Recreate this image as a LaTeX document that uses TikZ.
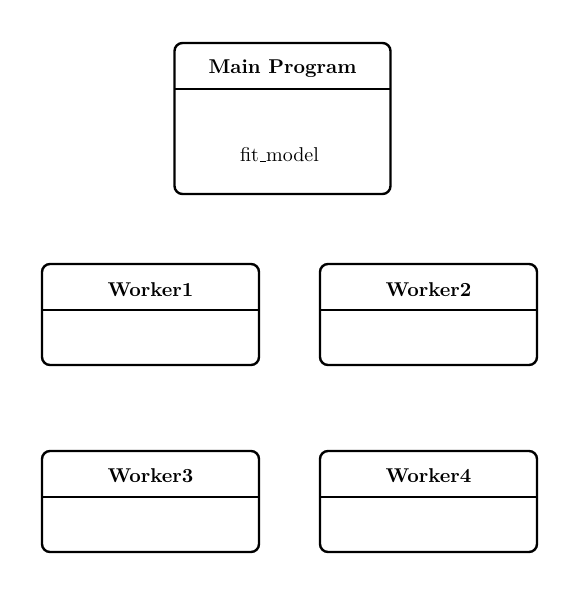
\documentclass[tikz,border=0pt]{standalone}
\newcommand{\shortus}{\leavevmode\kern.06em\vbox{\hrule width.3em}}
\begin{document}
\begin{tikzpicture}[x=0.5pt,y=-0.5pt,
  box/.style={draw=black, line width=1.2pt, rounded corners=4pt, inner sep=0pt},
  sep/.style={draw=black, line width=1.2pt},
  title/.style={font=\bfseries, inner sep=0pt},
  body/.style={inner sep=0pt}]
\useasboundingbox (0,0) rectangle (580,596);
% Main program
\node[box, minimum width=108pt, minimum height=75.5pt] (main) at (282.5,118.5) {};
\coordinate (mainL) at (175,89);
\coordinate (mainR) at (390,89);
\draw[sep] (mainL) -- (mainR);
\node[title] (maint) at (282.5,68.5) {Main Program};
\node[body] (mainb) at (279.5,155) {fit\shortus model};
% Workers
\node[box, minimum width=108.5pt, minimum height=50.5pt] (w1) at (150.5,314.5) {};
\coordinate (w1L) at (42,310);
\coordinate (w1R) at (259,310);
\draw[sep] (w1L) -- (w1R);
\node[title] (w1t) at (150.5,290) {Worker1};
\node[box, minimum width=108.5pt, minimum height=50.5pt] (w2) at (428.5,314.5) {};
\coordinate (w2L) at (320,310);
\coordinate (w2R) at (537,310);
\draw[sep] (w2L) -- (w2R);
\node[title] (w2t) at (428.5,290) {Worker2};
\node[box, minimum width=108.5pt, minimum height=50.5pt] (w3) at (150.5,501.5) {};
\coordinate (w3L) at (42,497);
\coordinate (w3R) at (259,497);
\draw[sep] (w3L) -- (w3R);
\node[title] (w3t) at (150.5,476) {Worker3};
\node[box, minimum width=108.5pt, minimum height=50.5pt] (w4) at (428.5,501.5) {};
\coordinate (w4L) at (320,497);
\coordinate (w4R) at (537,497);
\draw[sep] (w4L) -- (w4R);
\node[title] (w4t) at (428.5,476) {Worker4};
\end{tikzpicture}
\end{document}
